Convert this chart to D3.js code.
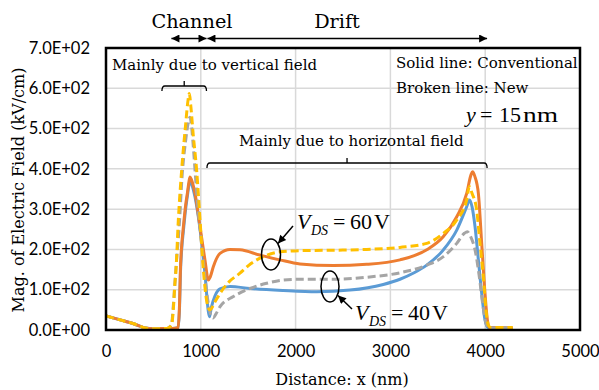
<!DOCTYPE html>
<html>
<head>
<meta charset="utf-8">
<script src="https://cdn.jsdelivr.net/npm/d3@7"></script>
<style>
  html, body { margin: 0; padding: 0; background: #fff; }
  svg { display: block; }
</style>
</head>
<body>
<svg id="chart" width="599" height="390"></svg>
<script>
// Axis ticks
const xTicks = [0, 1000, 2000, 3000, 4000, 5000];
const yTicks = [0, 100, 200, 300, 400, 500, 600, 700];
const yTickLabels = ["0.0E+00", "1.0E+02", "2.0E+02", "3.0E+02", "4.0E+02", "5.0E+02", "6.0E+02", "7.0E+02"];

// Conventional device, VDS = 40 V (solid blue)
const conv40X = [0, 150, 300, 411, 500, 643, 700, 760, 775, 785, 800, 816, 840, 858, 875, 888, 905, 939, 992, 1044, 1080, 1092, 1110, 1150, 1203, 1308, 1519, 1870, 2222, 2574, 2925, 3101, 3250, 3383, 3559, 3700, 3805, 3835, 3862, 3893, 3928, 3963, 3998, 4030, 4290];
const conv40Y = [35, 25, 15, 5, 3, 4, 4, 6, 50, 140, 205, 245, 300, 332, 360, 372, 362, 330, 250, 140, 45, 33, 55, 85, 102, 108, 103, 98, 95, 99, 113, 126, 142, 161, 199, 248, 306, 323, 305, 256, 174, 91, 25, 6, 5];

// Conventional device, VDS = 60 V (solid orange)
const conv60X = [0, 150, 300, 411, 500, 643, 700, 760, 775, 785, 800, 816, 840, 858, 875, 886, 900, 939, 992, 1044, 1080, 1100, 1132, 1203, 1308, 1413, 1624, 1835, 2046, 2398, 2750, 3101, 3383, 3559, 3700, 3805, 3850, 3867, 3890, 3928, 3963, 3998, 4023, 4045, 4290];
const conv60Y = [35, 25, 15, 5, 3, 4, 4, 6, 60, 150, 215, 256, 310, 339, 368, 380, 374, 339, 256, 174, 124, 132, 157, 190, 200, 199, 186, 174, 164, 160, 163, 174, 199, 232, 281, 339, 385, 393, 382, 339, 215, 91, 25, 6, 5];

// New device, VDS = 40 V (broken grey)
const new40X = [0, 150, 300, 411, 500, 643, 690, 710, 740, 770, 805, 840, 868, 886, 905, 921, 960, 992, 1030, 1070, 1110, 1132, 1160, 1203, 1343, 1519, 1695, 1870, 2046, 2398, 2750, 3101, 3383, 3559, 3700, 3780, 3812, 3850, 3893, 3938, 3973, 4008, 4040, 4290];
const new40Y = [35, 25, 15, 5, 3, 4, 12, 60, 160, 250, 390, 470, 515, 528, 500, 455, 330, 250, 160, 80, 35, 30, 40, 58, 83, 103, 116, 124, 126, 126, 131, 142, 161, 182, 215, 240, 244, 230, 199, 132, 66, 17, 5, 5];

// New device, VDS = 60 V (broken yellow)
const new60X = [0, 150, 300, 411, 500, 643, 690, 710, 725, 738, 763, 798, 840, 865, 879, 895, 920, 956, 992, 1027, 1060, 1085, 1097, 1150, 1203, 1300, 1413, 1530, 1658, 1835, 2046, 2398, 2750, 3101, 3383, 3559, 3700, 3805, 3833, 3860, 3910, 3945, 3980, 4008, 4033, 4060, 4290];
const new60Y = [35, 25, 15, 5, 3, 4, 12, 50, 110, 149, 273, 397, 510, 570, 587, 555, 485, 397, 273, 149, 75, 52, 50, 70, 91, 120, 141, 165, 182, 194, 197, 198, 200, 205, 215, 240, 273, 323, 356, 340, 298, 215, 132, 50, 12, 6, 6];

const TEXT_SERIF = "'DejaVu Serif', serif";
const MATH_SERIF = "'Liberation Serif', 'Times New Roman', serif";
const SANS = "Lato, 'Open Sans', sans-serif";

const svg = d3.select("#chart");
const x = d3.scaleLinear().domain([0, 5000]).range([106, 580]);
const y = d3.scaleLinear().domain([0, 700]).range([330, 48]);

function label(px, py, size, str, family) {
  return svg.append("text").attr("x", px).attr("y", py)
    .style("font-family", family || TEXT_SERIF).style("font-size", size + "px")
    .attr("fill", "#000").text(str);
}

// Gridlines
const grid = svg.append("g");
grid.selectAll("line.v").data(xTicks.slice(1, -1)).join("line")
  .attr("x1", d => x(d)).attr("x2", d => x(d))
  .attr("y1", y(0)).attr("y2", y(700))
  .attr("stroke", "#d9d9d9").attr("stroke-width", 1.5);
grid.selectAll("line.h").data(yTicks.slice(1, -1)).join("line")
  .attr("x1", x(0)).attr("x2", x(5000))
  .attr("y1", d => y(d)).attr("y2", d => y(d))
  .attr("stroke", "#d9d9d9").attr("stroke-width", 1.5);

// Axes (labels only, frame drawn separately)
const xAxis = svg.append("g").attr("transform", `translate(0,${y(0)})`)
  .call(d3.axisBottom(x).tickValues(xTicks).tickSize(0).tickPadding(15).tickFormat(d3.format("d")));
xAxis.select(".domain").remove();
const yAxis = svg.append("g").attr("transform", `translate(${x(0)},0)`)
  .call(d3.axisLeft(y).tickValues(yTicks).tickSize(0).tickPadding(16).tickFormat((d, i) => yTickLabels[i]));
yAxis.select(".domain").remove();
svg.selectAll(".tick text")
  .style("font-family", SANS).style("font-size", "16.5px").attr("fill", "#000");

// Curves
const series = [
  { xs: conv40X, ys: conv40Y, color: "#5b9bd5", dash: null },
  { xs: conv60X, ys: conv60Y, color: "#ed7d31", dash: null },
  { xs: new40X, ys: new40Y, color: "#a5a5a5", dash: "8,4" },
  { xs: new60X, ys: new60Y, color: "#ffc000", dash: "8,4" }
];
const line = d3.line().x(d => x(d[0])).y(d => y(d[1])).curve(d3.curveMonotoneX);
svg.append("g").selectAll("path").data(series).join("path")
  .attr("d", s => line(s.xs.map((v, i) => [v, s.ys[i]])))
  .attr("fill", "none")
  .attr("stroke", s => s.color)
  .attr("stroke-width", 3)
  .attr("stroke-dasharray", s => s.dash)
  .attr("stroke-linejoin", "round");

// Plot frame
svg.append("rect")
  .attr("x", x(0)).attr("y", y(700))
  .attr("width", x(5000) - x(0)).attr("height", y(0) - y(700))
  .attr("fill", "none").attr("stroke", "#000").attr("stroke-width", 2.5);

// Arrow markers
const defs = svg.append("defs");
defs.append("marker").attr("id", "head")
  .attr("viewBox", "0 0 10 10").attr("refX", 10).attr("refY", 5)
  .attr("markerWidth", 10).attr("markerHeight", 8).attr("markerUnits", "userSpaceOnUse")
  .attr("orient", "auto-start-reverse")
  .append("path").attr("d", "M0,0 L10,5 L0,10 Z").attr("fill", "#000");

// Channel / Drift region arrows
const regionY = 38.5;
svg.append("line").attr("x1", x(690)).attr("x2", x(1060)).attr("y1", regionY).attr("y2", regionY)
  .attr("stroke", "#000").attr("stroke-width", 1.5)
  .attr("marker-start", "url(#head)").attr("marker-end", "url(#head)");
svg.append("line").attr("x1", x(1070)).attr("x2", x(4020)).attr("y1", regionY).attr("y2", regionY)
  .attr("stroke", "#000").attr("stroke-width", 1.5)
  .attr("marker-start", "url(#head)").attr("marker-end", "url(#head)");
label(192, 28, 19.3, "Channel").attr("text-anchor", "middle");
label(337, 28, 19.3, "Drift").attr("text-anchor", "middle");

// Brackets
function bracket(x0, x1, yb) {
  const xm = (x0 + x1) / 2;
  svg.append("path")
    .attr("d", `M${x0},${yb + 5} Q${x0},${yb} ${x0 + 3},${yb} L${x1 - 3},${yb} Q${x1},${yb} ${x1},${yb + 5} M${xm},${yb} L${xm},${yb - 5}`)
    .attr("fill", "none").attr("stroke", "#000").attr("stroke-width", 1.3);
}
bracket(x(590), x(1060), 86);
bracket(x(1065), x(4020), 163);

label(112, 70, 15, "Mainly due to vertical field");
label(239, 146, 15, "Mainly due to horizontal field");
label(396, 68, 15, "Solid line: Conventional");
label(396, 93, 15, "Broken line: New");

// y = 15 nm
const yLab = label(0, 122, 22, null, MATH_SERIF);
yLab.append("tspan").attr("x", 466).style("font-style", "italic").text("y");
yLab.append("tspan").attr("x", 480).text("=");
yLab.append("tspan").attr("x", 499).text("15");
label(523, 122, 22, "nm", MATH_SERIF).attr("textLength", 35).attr("lengthAdjust", "spacingAndGlyphs");

// VDS labels with ellipses and pointers
function vdsLabel(x0, yBase, volts) {
  const t = label(0, yBase, 22, null, MATH_SERIF);
  t.append("tspan").attr("x", x0).style("font-style", "italic").text("V");
  t.append("tspan").attr("x", x0 + 14).attr("dy", 6).style("font-size", "14px").style("font-style", "italic").text("DS");
  t.append("tspan").attr("x", x0 + 36).attr("dy", -6).text("=");
  t.append("tspan").attr("x", x0 + 53).text(volts);
  t.append("tspan").attr("x", x0 + 77).text("V");
}
vdsLabel(297, 229, "60");
vdsLabel(355, 320, "40");

svg.append("ellipse").attr("cx", 271).attr("cy", 254.5).attr("rx", 9.5).attr("ry", 15.5)
  .attr("fill", "none").attr("stroke", "#000").attr("stroke-width", 1.5);
svg.append("ellipse").attr("cx", 330).attr("cy", 286.5).attr("rx", 9).attr("ry", 15.5)
  .attr("fill", "none").attr("stroke", "#000").attr("stroke-width", 1.5);
svg.append("line").attr("x1", 293).attr("y1", 226).attr("x2", 278).attr("y2", 243.5)
  .attr("stroke", "#000").attr("stroke-width", 1.5).attr("marker-end", "url(#head)");
svg.append("line").attr("x1", 352).attr("y1", 309).attr("x2", 338).attr("y2", 295.5)
  .attr("stroke", "#000").attr("stroke-width", 1.5).attr("marker-end", "url(#head)");

// Axis titles
label(342, 385, 16, "Distance: x (nm)").attr("text-anchor", "middle");
label(0, 0, 16, "Mag. of Electric Field (kV/cm)")
  .attr("transform", "translate(24,190) rotate(-90)")
  .attr("text-anchor", "middle");
</script>
</body>
</html>
